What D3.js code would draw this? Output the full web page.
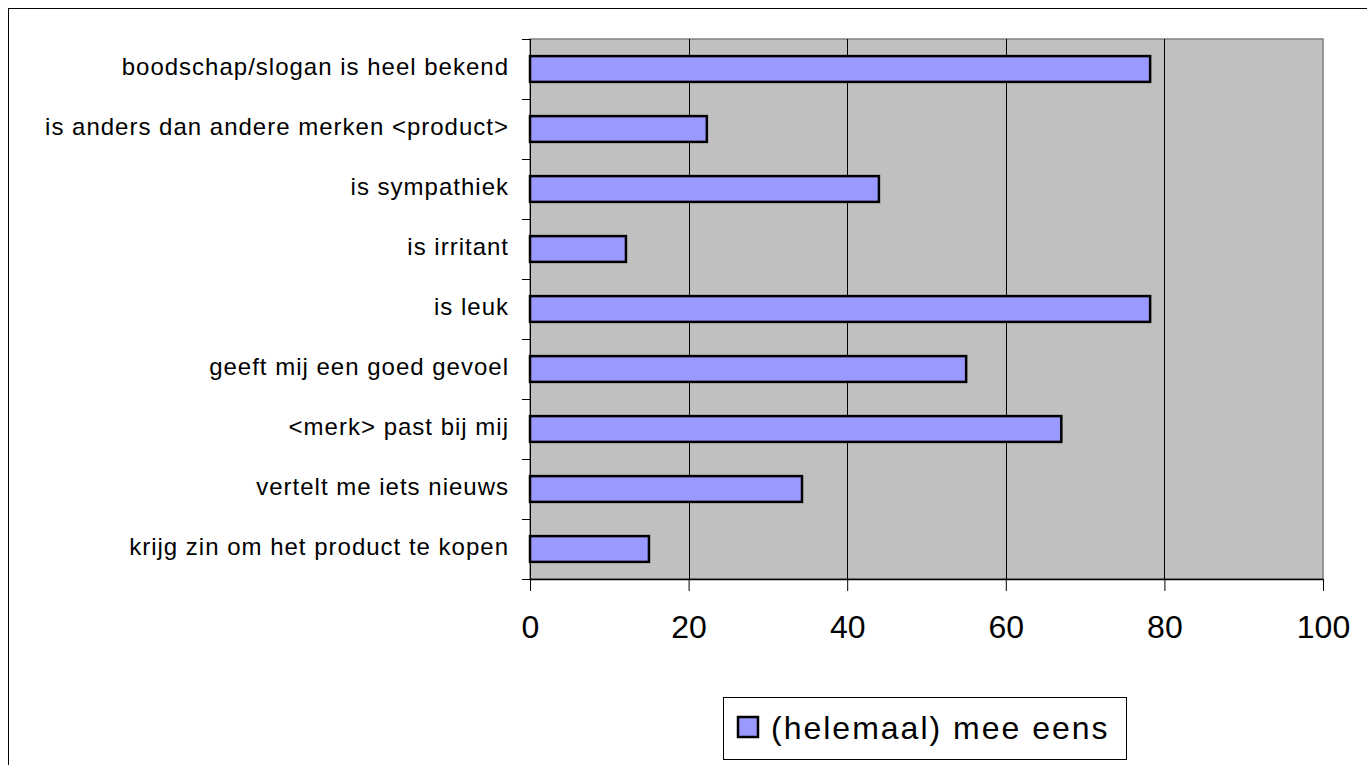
<!DOCTYPE html>
<html>
<head>
<meta charset="utf-8">
<script src="https://cdn.jsdelivr.net/npm/d3@7"></script>
<style>
  body { margin: 0; background: #fff; }
  svg text { font-family: "Liberation Sans", Arial, sans-serif; fill: #000; }
</style>
</head>
<body>
<svg id="chart" width="1367" height="765"></svg>
<script>
/* chart data */
var categories = [
  "boodschap/slogan is heel bekend",
  "is anders dan andere merken <product>",
  "is sympathiek",
  "is irritant",
  "is leuk",
  "geeft mij een goed gevoel",
  "<merk> past bij mij",
  "vertelt me iets nieuws",
  "krijg zin om het product te kopen"
];
var values = [78.2, 22.3, 44.0, 12.1, 78.2, 55.0, 67.0, 34.3, 15.0];
var xTicks = [0, 20, 40, 60, 80, 100];
var seriesName = "(helemaal) mee eens";

var svg = d3.select("#chart");

var plot = {left: 530, top: 39, right: 1323, bottom: 579};

var x = d3.scaleLinear().domain([0, 100]).range([plot.left, plot.right]);
var y = d3.scaleBand().domain(categories).range([plot.top, plot.bottom]).padding(0);

/* outer frame */
svg.append("rect")
    .attr("x", 8.5).attr("y", 8.5)
    .attr("width", 1400).attr("height", 800)
    .attr("fill", "none").attr("stroke", "#000").attr("stroke-width", 1);

/* plot background */
svg.append("rect")
    .attr("x", plot.left).attr("y", plot.top)
    .attr("width", plot.right - plot.left).attr("height", plot.bottom - plot.top)
    .attr("fill", "#c0c0c0").attr("stroke", "#808080").attr("stroke-width", 1.5);

/* grid lines */
svg.append("g").selectAll("line")
    .data(xTicks.filter(function(d){ return d > 0 && d < 100; }))
    .enter().append("line")
    .attr("x1", function(d){ return Math.round(x(d)) + 0.5; })
    .attr("x2", function(d){ return Math.round(x(d)) + 0.5; })
    .attr("y1", plot.top).attr("y2", plot.bottom)
    .attr("stroke", "#000").attr("stroke-width", 1);

/* bars */
var barH = y.bandwidth() * 0.43;
svg.append("g").selectAll("rect")
    .data(categories)
    .enter().append("rect")
    .attr("x", x(0))
    .attr("y", function(d){ return y(d) + (y.bandwidth() - barH) / 2; })
    .attr("width", function(d, i){ return x(values[i]) - x(0); })
    .attr("height", barH)
    .attr("fill", "#9999ff")
    .attr("stroke", "#000").attr("stroke-width", 2.5);

/* y axis */
var yAxis = svg.append("g");
yAxis.append("line")
    .attr("x1", plot.left + 0.5).attr("x2", plot.left + 0.5)
    .attr("y1", plot.top).attr("y2", plot.bottom)
    .attr("stroke", "#000");
var yTickPos = categories.map(function(c){ return y(c); }).concat([plot.bottom]);
yAxis.selectAll("line.tick")
    .data(yTickPos)
    .enter().append("line")
    .attr("class", "tick")
    .attr("x1", plot.left - 8).attr("x2", plot.left)
    .attr("y1", function(d){ return Math.round(d) + 0.5; })
    .attr("y2", function(d){ return Math.round(d) + 0.5; })
    .attr("stroke", "#000");
yAxis.selectAll("text")
    .data(categories)
    .enter().append("text")
    .attr("x", plot.left - 21)
    .attr("y", function(d){ return y(d) + y.bandwidth() / 2 - 2; })
    .attr("dy", "0.35em")
    .attr("text-anchor", "end")
    .style("font-size", "24px")
    .style("letter-spacing", "1px")
    .text(function(d){ return d; });

/* x axis */
var xAxis = svg.append("g")
    .attr("transform", "translate(0," + plot.bottom + ")")
    .call(d3.axisBottom(x).tickValues(xTicks).tickSize(12).tickPadding(24).tickSizeOuter(0));
xAxis.select(".domain").attr("stroke", "#000").attr("stroke-width", 1.5);
xAxis.selectAll(".tick line").attr("stroke", "#000");
xAxis.selectAll(".tick text")
    .style("font-size", "32px")
    .style("font-family", "'Liberation Sans', Arial, sans-serif")
    .attr("fill", "#000");

/* legend */
var legend = svg.append("g");
legend.append("rect")
    .attr("x", 723.5).attr("y", 697.5)
    .attr("width", 403).attr("height", 62)
    .attr("fill", "#fff").attr("stroke", "#000").attr("stroke-width", 1);
legend.append("rect")
    .attr("x", 738).attr("y", 717)
    .attr("width", 20).attr("height", 20)
    .attr("fill", "#9999ff").attr("stroke", "#000").attr("stroke-width", 2.5);
legend.append("text")
    .attr("x", 771).attr("y", 728)
    .attr("dy", "0.35em")
    .style("font-size", "32px")
    .style("letter-spacing", "2px")
    .text(seriesName);
</script>
</body>
</html>
